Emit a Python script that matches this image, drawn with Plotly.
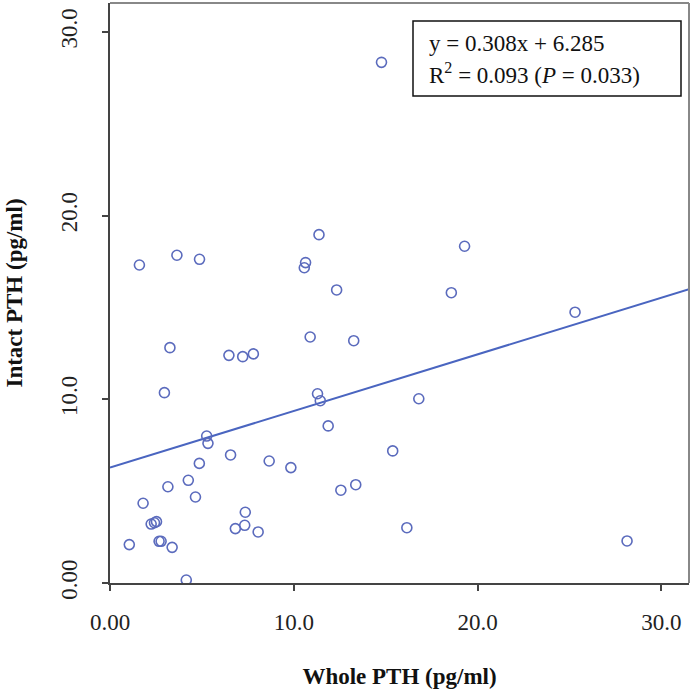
import plotly.graph_objects as go

whole_pth = [1.05, 1.60, 1.80, 2.24, 2.42, 2.53, 2.67, 2.78, 2.96, 3.15, 3.26, 3.38, 3.64,
             4.15, 4.26, 4.65, 4.86, 4.87, 5.26, 5.33, 6.47, 6.56, 6.82, 7.22, 7.33, 7.36,
             7.80, 8.06, 8.66, 9.84, 10.57, 10.64, 10.89, 11.29, 11.37, 11.44, 11.87, 12.33,
             12.56, 13.26, 13.37, 14.77, 15.38, 16.15, 16.80, 18.57, 19.29, 25.30, 28.13]
intact_pth = [2.09, 17.31, 4.34, 3.21, 3.28, 3.34, 2.27, 2.27, 10.36, 5.24, 12.81, 1.94, 17.84,
              0.16, 5.59, 4.68, 6.51, 17.62, 8.00, 7.60, 12.39, 6.97, 2.96, 12.32, 3.14, 3.85,
              12.47, 2.78, 6.64, 6.28, 17.16, 17.44, 13.39, 10.30, 18.96, 9.92, 8.55, 15.95,
              5.05, 13.19, 5.35, 28.34, 7.19, 3.01, 10.03, 15.80, 18.33, 14.74, 2.29]

slope = 0.308
intercept = 6.285
fit_x = [0.0, 31.5]
fit_y = [slope * v + intercept for v in fit_x]

x_tickvals = [0, 10, 20, 30]
x_ticktext = ["0.00", "10.0", "20.0", "30.0"]
y_tickvals = [0, 10, 20, 30]
y_ticktext = ["0.00", "10.0", "20.0", "30.0"]

FONT = "Liberation Serif"

fig = go.Figure()
fig.add_trace(go.Scatter(
    x=fit_x, y=fit_y, mode="lines",
    line=dict(color="#4a65c0", width=2), hoverinfo="skip", showlegend=False))
fig.add_trace(go.Scatter(
    x=whole_pth, y=intact_pth, mode="markers",
    marker=dict(symbol="circle-open", size=10, color="#5b6bbd", line=dict(width=1.6)),
    showlegend=False))

axis_common = dict(
    showgrid=False, zeroline=False, showline=True, linecolor="#444", linewidth=2,
    ticks="outside", ticklen=6, tickwidth=2, tickcolor="#444", automargin=False,
    tickfont=dict(family=FONT, size=23, color="#222"),
)

fig.update_xaxes(range=[0, 31.5], tickvals=x_tickvals, ticktext=x_ticktext,
                 title=dict(text="<b>Whole PTH (pg/ml)</b>", font=dict(family=FONT, size=23, color="#111"),
                            standoff=34),
                 ticklabelstandoff=11, **axis_common)
fig.update_yaxes(range=[0, 31.57], tickvals=y_tickvals, ticktext=y_ticktext, tickangle=-90,
                 title=dict(text="<b>Intact PTH (pg/ml)</b>", font=dict(family=FONT, size=23, color="#111"),
                            standoff=28),
                 ticklabelstandoff=16, **axis_common)

# top/right frame
fig.add_shape(type="line", xref="paper", yref="paper", x0=0, x1=1, y0=1, y1=1,
              line=dict(color="#888", width=2))
fig.add_shape(type="line", xref="paper", yref="paper", x0=1, x1=1, y0=0, y1=1,
              line=dict(color="#888", width=2))

# equation box
def px_to_paper_x(px):
    return (px - 110) / 579.0

def px_to_paper_y(py):
    return (583 - py) / 580.0

fig.add_shape(type="rect", xref="paper", yref="paper",
              x0=px_to_paper_x(413), x1=px_to_paper_x(681),
              y0=px_to_paper_y(96), y1=px_to_paper_y(21),
              line=dict(color="#111", width=1.5), fillcolor="white")
fig.add_annotation(xref="paper", yref="paper", x=px_to_paper_x(427), y=px_to_paper_y(43),
                   xanchor="left", yanchor="middle", showarrow=False,
                   text="y = 0.308x + 6.285", font=dict(family=FONT, size=23, color="#111"))
fig.add_annotation(xref="paper", yref="paper", x=px_to_paper_x(427), y=px_to_paper_y(74),
                   xanchor="left", yanchor="middle", showarrow=False,
                   text="R<sup>2</sup> = 0.093 (<i>P</i> = 0.033)",
                   font=dict(family=FONT, size=23, color="#111"))

fig.update_layout(
    width=693, height=693,
    margin=dict(l=110, r=4, t=3, b=110),
    plot_bgcolor="white", paper_bgcolor="white",
)

fig.write_html("out.html", config={"displayModeBar": False},
               post_script="document.body.style.margin='0';document.body.style.overflow='hidden';")
